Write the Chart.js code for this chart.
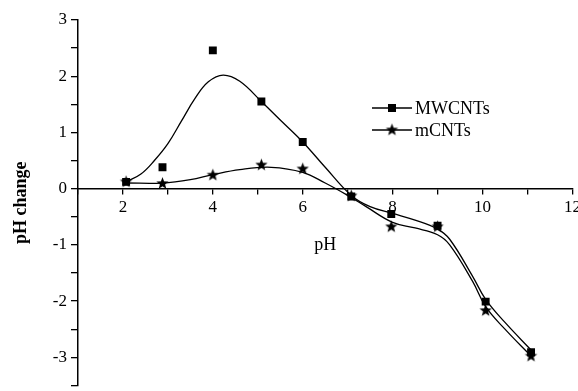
<!DOCTYPE html>
<html>
<head>
<meta charset="utf-8">
<script src="https://cdn.jsdelivr.net/npm/chart.js@4"></script>
<style>
  html, body { margin: 0; padding: 0; background: #fff; }
  #wrap { width: 578px; height: 391px; }
</style>
</head>
<body>
<div id="wrap"><canvas id="phChart"></canvas></div>
<script>
// measured points
const phMW = [2.07, 2.88, 4.0, 5.08, 6.0, 7.08, 7.97, 9.0, 10.07, 11.08];
const changeMW = [0.12, 0.38, 2.46, 1.55, 0.83, -0.14, -0.45, -0.66, -2.01, -2.91];
const phM = [2.07, 2.88, 4.0, 5.08, 6.0, 7.08, 7.97, 9.0, 10.07, 11.08];
const changeM = [0.12, 0.09, 0.24, 0.42, 0.35, -0.13, -0.68, -0.68, -2.17, -2.98];

// fitted curves
const fitXMW = [2.07, 2.4, 2.7, 3.0, 3.3, 3.6, 3.9, 4.23, 4.6, 5.08, 5.5, 6.0, 6.5, 7.08, 7.5, 8.0, 8.5, 9.0, 9.27, 9.78, 10.07, 10.5, 11.08];
const fitYMW = [0.12, 0.26, 0.5, 0.8, 1.2, 1.6, 1.9, 2.02, 1.91, 1.55, 1.22, 0.83, 0.38, -0.12, -0.32, -0.44, -0.56, -0.72, -0.9, -1.56, -1.97, -2.38, -2.87];
const fitXM = [2.07, 2.88, 3.5, 4.0, 4.6, 5.3, 6.0, 6.5, 7.0, 7.41, 8.0, 8.5, 9.0, 9.27, 9.78, 10.07, 10.5, 11.08];
const fitYM = [0.1, 0.1, 0.16, 0.25, 0.34, 0.38, 0.29, 0.1, -0.12, -0.32, -0.6, -0.7, -0.82, -1.0, -1.65, -2.1, -2.5, -2.98];

const seriesNames = ["MWCNTs", "mCNTs"];
const xTitle = "pH";
const yTitle = "pH change";

const FONT = "'Liberation Serif', 'Times New Roman', serif";

const toXY = (xs, ys) => xs.map((x, i) => ({ x: x, y: ys[i] }));

// filled five point star marker
function makeStar(r) {
    const c = document.createElement("canvas");
    const s = Math.ceil(r * 2 + 2);
    c.width = s; c.height = s;
    const g = c.getContext("2d");
    g.beginPath();
    for (let i = 0; i < 10; i++) {
        const rad = i % 2 === 0 ? r : r * 0.42;
        const a = -Math.PI / 2 + i * Math.PI / 5;
        const px = s / 2 + rad * Math.cos(a);
        const py = s / 2 + rad * Math.sin(a);
        i === 0 ? g.moveTo(px, py) : g.lineTo(px, py);
    }
    g.closePath();
    g.fillStyle = "#000";
    g.fill();
    return c;
}
const starImg = makeStar(6.5);

// =========================
// LEGEND (line + marker + label)
// =========================
const legendPlugin = {
    id: "lineLegend",
    afterDraw(chart) {
        const ctx = chart.ctx;
        const items = [
            { name: seriesNames[0], y: 108, marker: "rect" },
            { name: seriesNames[1], y: 130, marker: "star" }
        ];
        ctx.save();
        items.forEach(it => {
            ctx.strokeStyle = "#000";
            ctx.lineWidth = 1.3;
            ctx.beginPath();
            ctx.moveTo(372, it.y);
            ctx.lineTo(412, it.y);
            ctx.stroke();
            if (it.marker === "rect") {
                ctx.fillStyle = "#000";
                ctx.fillRect(392 - 4, it.y - 4, 8, 8);
            } else {
                ctx.drawImage(starImg, 392 - starImg.width / 2, it.y - starImg.height / 2);
            }
            ctx.fillStyle = "#000";
            ctx.font = "18px " + FONT;
            ctx.textBaseline = "middle";
            ctx.textAlign = "left";
            ctx.fillText(it.name, 415, it.y + 1);
        });
        ctx.restore();
    }
};

new Chart(document.getElementById("phChart"), {
    type: "scatter",
    data: {
        datasets: [
            {
                label: seriesNames[0],
                data: toXY(phMW, changeMW),
                pointStyle: "rect",
                pointRadius: 5.6,
                pointHoverRadius: 5.6,
                backgroundColor: "#000",
                borderColor: "#000",
                borderWidth: 0
            },
            {
                label: seriesNames[1],
                data: toXY(phM, changeM),
                pointStyle: starImg,
                backgroundColor: "#000",
                borderColor: "#000"
            },
            {
                label: "fit MW",
                data: toXY(fitXMW, fitYMW),
                showLine: true,
                pointRadius: 0,
                borderColor: "#000",
                borderWidth: 1.3,
                tension: 0.4
            },
            {
                label: "fit m",
                data: toXY(fitXM, fitYM),
                showLine: true,
                pointRadius: 0,
                borderColor: "#000",
                borderWidth: 1.3,
                tension: 0.4
            }
        ]
    },
    options: {
        responsive: true,
        maintainAspectRatio: false,
        animation: false,
        layout: { padding: { top: 20, right: 4, bottom: 0, left: 0 } },
        plugins: {
            legend: { display: false },
            tooltip: { enabled: false }
        },
        scales: {
            x: {
                type: "linear",
                min: 1,
                max: 12,
                position: { y: 0 },
                border: { display: true, color: "#000", width: 1.5 },
                grid: {
                    drawOnChartArea: false,
                    color: "#000",
                    tickLength: 5,
                    lineWidth: 1.3
                },
                ticks: {
                    stepSize: 1,
                    autoSkip: false,
                    maxRotation: 0,
                    padding: 4,
                    color: "#000",
                    font: { family: FONT, size: 17 },
                    callback: v => (v % 2 === 0 ? String(v) : "")
                },
                title: {
                    display: true,
                    text: xTitle,
                    color: "#000",
                    font: { family: FONT, size: 18 },
                    padding: { top: 12, bottom: 0 }
                },
                afterFit(scale) {
                    scale.paddingLeft = 0;
                    scale.paddingRight = 0;
                }
            },
            y: {
                type: "linear",
                min: -3.5,
                max: 3,
                border: { display: true, color: "#000", width: 1.5 },
                grid: {
                    drawOnChartArea: false,
                    color: "#000",
                    tickLength: 7,
                    lineWidth: 1.3
                },
                ticks: {
                    stepSize: 0.5,
                    autoSkip: false,
                    padding: 4,
                    color: "#000",
                    font: { family: FONT, size: 17 },
                    callback: v => (Number.isInteger(v) ? String(v) : "")
                },
                title: {
                    display: true,
                    text: yTitle,
                    color: "#000",
                    font: { family: FONT, size: 18, weight: "bold" },
                    padding: { top: 11, bottom: 0 }
                },
                afterFit(scale) {
                    scale.width = 78;
                    scale.paddingTop = 0;
                    scale.paddingBottom = 0;
                }
            }
        }
    },
    plugins: [legendPlugin]
});
</script>
</body>
</html>
